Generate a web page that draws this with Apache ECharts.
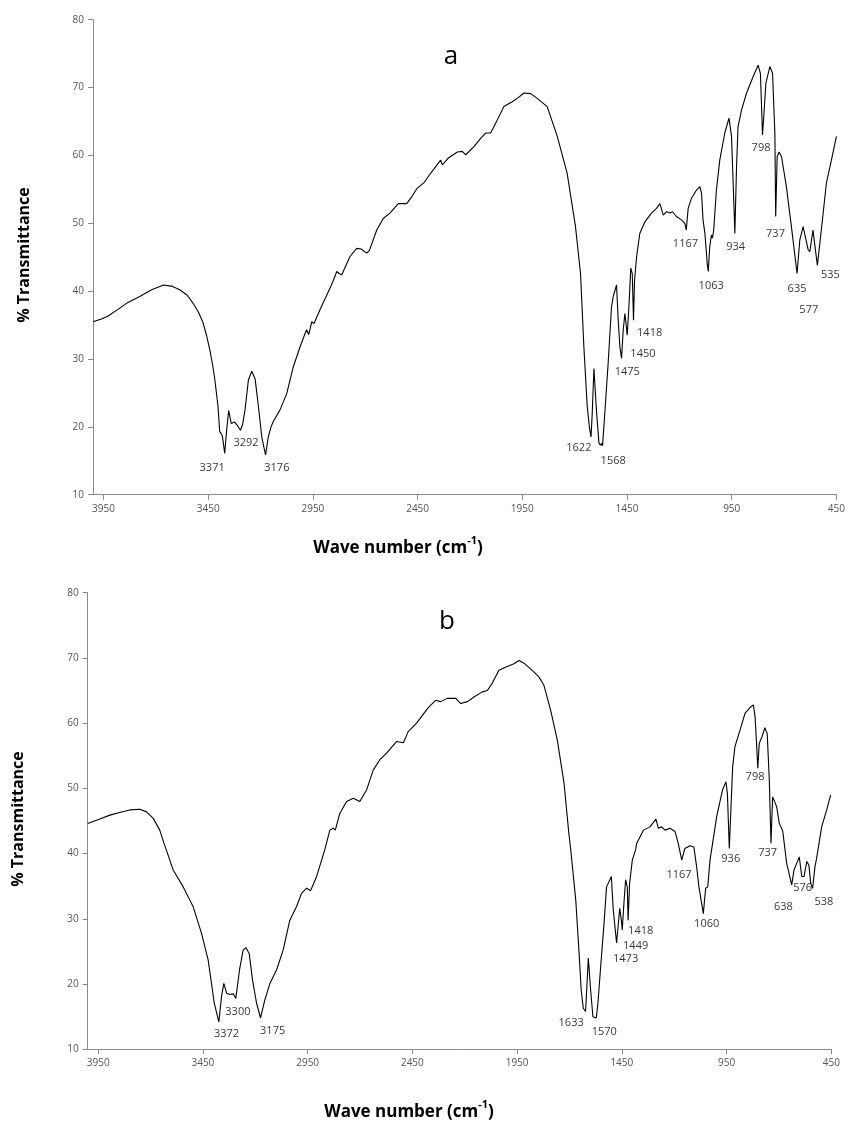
<!DOCTYPE html>
<html>
<head>
<meta charset="utf-8">
<script src="https://cdn.jsdelivr.net/npm/echarts@6/dist/echarts.min.js"></script>
<style>
html,body{margin:0;padding:0;background:#fff;}
#chart{width:848px;height:1122px;}
</style>
</head>
<body>
<div id="chart"></div>
<script>
// ---- Data ----
const xTicks = [450, 950, 1450, 1950, 2450, 2950, 3450, 3950];
const yTicks = [10, 20, 30, 40, 50, 60, 70, 80];

const waveA = [4000,3960,3930,3886,3840,3777,3720,3663,3620,3586,3550,3522,3495,3474,3458,3442,3428,3418,3403,3395,3388,3382,3371,3362,3352,3340,3324,3313,3296,3286,3274,3258,3242,3226,3210,3194,3176,3163,3150,3139,3107,3075,3043,3011,2987,2980,2970,2955,2945,2934,2902,2870,2852,2836,2825,2812,2773,2741,2720,2693,2680,2645,2614,2582,2542,2502,2478,2454,2419,2387,2340,2332,2300,2260,2237,2220,2181,2149,2125,2101,2070,2038,1998,1974,1942,1910,1879,1831,1783,1736,1696,1672,1656,1640,1629,1622,1616,1608,1595,1584,1576,1571,1567,1556,1540,1524,1516,1509,1500,1492,1484,1476,1468,1460,1455,1449,1441,1432,1425,1419,1414,1404,1389,1365,1333,1309,1293,1277,1261,1245,1233,1214,1190,1174,1167,1158,1142,1118,1102,1094,1087,1078,1073,1067,1062,1055,1047,1042,1036,1023,1007,983,963,951,943,935,927,920,903,879,848,824,813,803,797,787,768,755,744,740,733,724,712,689,665,638,625,617,609,601,585,577,562,541,522,498,474,450];
const transA = [35.5,35.9,36.3,37.2,38.2,39.2,40.2,40.9,40.7,40.2,39.4,38.2,36.8,35.3,33.5,31.3,29.0,26.9,23.0,19.3,19.0,18.6,16.1,19.5,22.4,20.5,20.7,20.3,19.5,20.3,22.5,26.9,28.2,27.1,23.0,18.5,15.85,18.5,20.0,20.8,22.5,24.9,28.9,31.8,33.8,34.3,33.6,35.5,35.2,36.0,38.2,40.3,41.6,42.9,42.6,42.4,45.1,46.3,46.2,45.6,46.0,49.0,50.7,51.5,52.9,52.9,53.9,55.1,56.0,57.4,59.3,58.6,59.7,60.5,60.6,60.1,61.3,62.5,63.3,63.3,65.2,67.2,67.9,68.4,69.2,69.1,68.4,67.2,62.8,57.4,49.5,42.6,31.8,23.0,19.8,18.5,22.0,28.6,22.0,17.6,17.3,17.6,17.2,22.0,29.4,37.7,39.2,39.3,40.9,35.7,31.8,30.1,34.3,36.7,35.3,33.5,37.7,43.4,42.6,35.7,41.6,45.1,48.5,50.2,51.5,52.2,52.9,51.2,51.7,51.5,51.7,51.0,50.5,50.0,49.0,52.2,53.7,54.9,55.4,54.4,50.5,48.5,48.4,44.1,42.9,46.5,48.3,47.8,49.0,54.9,59.3,63.3,65.5,62.8,55.9,48.5,58.3,64.2,66.7,69.2,71.6,73.3,72.1,63.0,65.7,70.6,73.1,72.1,63.3,51.0,59.8,60.5,59.8,55.4,49.5,42.6,47.5,47.3,49.5,49.7,46.1,45.8,49.0,43.8,49.0,55.9,59.3,62.8];

const waveB = [4000,3942,3894,3847,3799,3751,3719,3687,3656,3640,3624,3592,3544,3497,3457,3425,3409,3396,3388,3374,3361,3350,3337,3321,3305,3293,3275,3258,3245,3229,3213,3194,3175,3154,3130,3098,3067,3035,3003,2979,2971,2955,2936,2907,2868,2844,2828,2818,2796,2764,2732,2701,2668,2637,2605,2573,2525,2493,2470,2430,2395,2371,2339,2315,2284,2243,2219,2187,2156,2116,2092,2069,2037,1997,1965,1941,1917,1878,1846,1822,1790,1758,1726,1703,1694,1670,1655,1644,1634,1628,1623,1610,1599,1588,1580,1572,1564,1551,1535,1523,1515,1500,1491,1475,1460,1453,1448,1440,1432,1424,1420,1413,1400,1384,1379,1347,1316,1287,1276,1260,1244,1220,1196,1181,1164,1149,1125,1106,1093,1082,1074,1061,1050,1040,1029,997,969,953,946,937,930,921,910,886,862,838,822,814,807,801,794,780,767,756,746,738,730,723,711,698,682,663,639,628,620,603,591,580,567,557,548,539,528,520,496,472,453];
const transB = [44.6,45.3,45.9,46.3,46.7,46.8,46.4,45.4,43.6,42.0,40.5,37.5,34.9,31.9,27.8,23.7,20.1,17.1,17.0,14.2,18.1,20.1,18.6,18.4,18.5,17.8,22.2,25.2,25.6,24.7,20.6,17.1,14.8,17.6,20.1,22.2,25.2,29.8,31.9,33.9,33.7,34.7,34.3,36.5,40.6,43.6,43.9,43.6,46.2,48.0,48.5,48.0,49.8,52.8,54.4,55.4,57.2,57.0,58.7,60.0,61.5,62.5,63.5,63.3,63.8,63.8,63.0,63.3,64.0,64.8,65.0,66.1,68.1,68.7,69.1,69.6,69.2,68.1,67.1,65.8,62.0,57.4,50.8,43.1,40.6,32.9,25.2,19.1,16.3,16.5,15.8,24.0,19.1,15.0,15.3,14.8,17.1,22.7,29.3,34.9,35.0,36.5,31.4,26.3,31.6,30.0,28.3,32.4,36.0,34.9,29.8,35.4,39.0,40.6,41.6,43.6,44.1,45.3,43.9,44.1,43.6,43.9,43.4,41.6,39.0,40.8,41.2,41.0,38.0,34.9,35.0,30.8,34.7,34.9,39.0,45.7,49.8,51.0,49.2,40.8,46.2,53.3,56.4,58.9,61.5,62.4,62.8,61.0,57.0,53.1,56.9,58.0,59.3,58.4,51.3,41.6,48.7,48.4,47.2,44.6,43.5,38.5,35.2,37.5,37.7,39.5,36.5,36.5,38.8,38.2,35.4,34.7,38.0,39.3,44.1,46.7,49.0];

// peak annotations: text, and where the text sits (wavenumber, %T)
const peakTextA = ['3371','3292','3176','1622','1568','1475','1450','1418','1167','1063','934','798','737','635','577','535'];
const peakPosA = [[3431,13.9],[3269,17.6],[3122,13.9],[1680,16.9],[1516,15.0],[1449,28.1],[1374,30.8],[1342,33.8],[1171,47.0],[1048,40.8],[931,46.5],[810,61.1],[741,48.4],[638,40.3],[582,37.3],[479,42.4]];
const peakTextB = ['3372','3300','3175','1633','1570','1473','1449','1418','1167','1060','936','798','737','638','576','538'];
const peakPosB = [[3337,12.3],[3283,15.7],[3117,12.8],[1692,14.1],[1534,12.7],[1432,23.9],[1384,25.9],[1360,28.1],[1177,36.8],[1045,29.3],[930,39.2],[814,51.8],[754,40.1],[679,31.9],[587,34.7],[485,32.6]];

// ---- Chart ----
const zip = (xs, ys) => xs.map((x, i) => [x, ys[i]]);
const axisGray = '#8a8a8a';
const labelGray = '#555555';
const FONT = '"Open Sans", "Noto Sans", sans-serif';

function xAxisDef(gi) {
  return {
    gridIndex: gi, type: 'value', inverse: true, min: 450, max: 4000, interval: 500,
    axisLine: {show: true, onZero: false, lineStyle: {color: axisGray, width: 1}},
    axisTick: {show: true, inside: false, length: 5, lineStyle: {color: axisGray}, customValues: xTicks},
    axisLabel: {show: true, color: labelGray, fontSize: 10, fontFamily: FONT, margin: 9, customValues: xTicks,
      formatter: v => String(v)},
    splitLine: {show: false}
  };
}
function yAxisDef(gi) {
  return {
    gridIndex: gi, type: 'value', min: 10, max: 80, interval: 10,
    axisLine: {show: true, lineStyle: {color: axisGray, width: 1}},
    axisTick: {show: true, inside: false, length: 5, lineStyle: {color: axisGray}},
    axisLabel: {show: true, color: labelGray, fontSize: 10, fontFamily: FONT, margin: 9},
    splitLine: {show: false}
  };
}
function peakSeries(gi, texts, pos) {
  return {
    type: 'scatter', xAxisIndex: gi, yAxisIndex: gi, silent: true,
    symbolSize: 0,
    data: texts.map((t, i) => ({name: t, value: pos[i]})),
    label: {show: true, position: 'inside', formatter: p => p.name, color: '#000', textBorderWidth: 0,
      fontSize: 11, fontFamily: FONT},
    z: 5
  };
}
function axisTitle(x, y) {
  return {
    type: 'text', x: x, y: y,
    style: {
      text: '{b|Wave number (cm}{s|-1}{b|)}',
      align: 'center', verticalAlign: 'middle',
      rich: {
        b: {fontSize: 17, fontWeight: 'bold', fontFamily: FONT, fill: '#000', lineHeight: 22, verticalAlign: 'bottom'},
        s: {fontSize: 11, fontWeight: 'bold', fontFamily: FONT, fill: '#000', lineHeight: 22, verticalAlign: 'top'}
      }
    }
  };
}
function yTitle(x, y) {
  return {
    type: 'text', x: x, y: y, rotation: Math.PI / 2,
    style: {text: '% Transmittance', align: 'center', verticalAlign: 'middle', fontSize: 16, fontWeight: 'bold', fontFamily: FONT, fill: '#000'}
  };
}

const chart = echarts.init(document.getElementById('chart'), null, {renderer: 'canvas'});
chart.setOption({
  animation: false,
  backgroundColor: '#fff',
  grid: [
    {left: 93, top: 19.7, width: 743.7, height: 475},
    {left: 87.7, top: 592.7, width: 743.6, height: 456.6}
  ],
  xAxis: [xAxisDef(0), xAxisDef(1)],
  yAxis: [yAxisDef(0), yAxisDef(1)],
  series: [
    {type: 'line', xAxisIndex: 0, yAxisIndex: 0, data: zip(waveA, transA), showSymbol: false, symbol: 'none', lineStyle: {color: '#000', width: 1.1}, silent: true},
    {type: 'line', xAxisIndex: 1, yAxisIndex: 1, data: zip(waveB, transB), showSymbol: false, symbol: 'none', lineStyle: {color: '#000', width: 1.1}, silent: true},
    peakSeries(0, peakTextA, peakPosA),
    peakSeries(1, peakTextB, peakPosB)
  ],
  graphic: [
    {type: 'text', x: 451, y: 57, style: {text: 'a', align: 'center', verticalAlign: 'middle', fontSize: 26, fontFamily: FONT, fill: '#000'}},
    {type: 'text', x: 447, y: 622, style: {text: 'b', align: 'center', verticalAlign: 'middle', fontSize: 26, fontFamily: FONT, fill: '#000'}},
    axisTitle(398, 546),
    axisTitle(409, 1110),
    yTitle(24, 255),
    yTitle(18, 819)
  ]
});
</script>
</body>
</html>
